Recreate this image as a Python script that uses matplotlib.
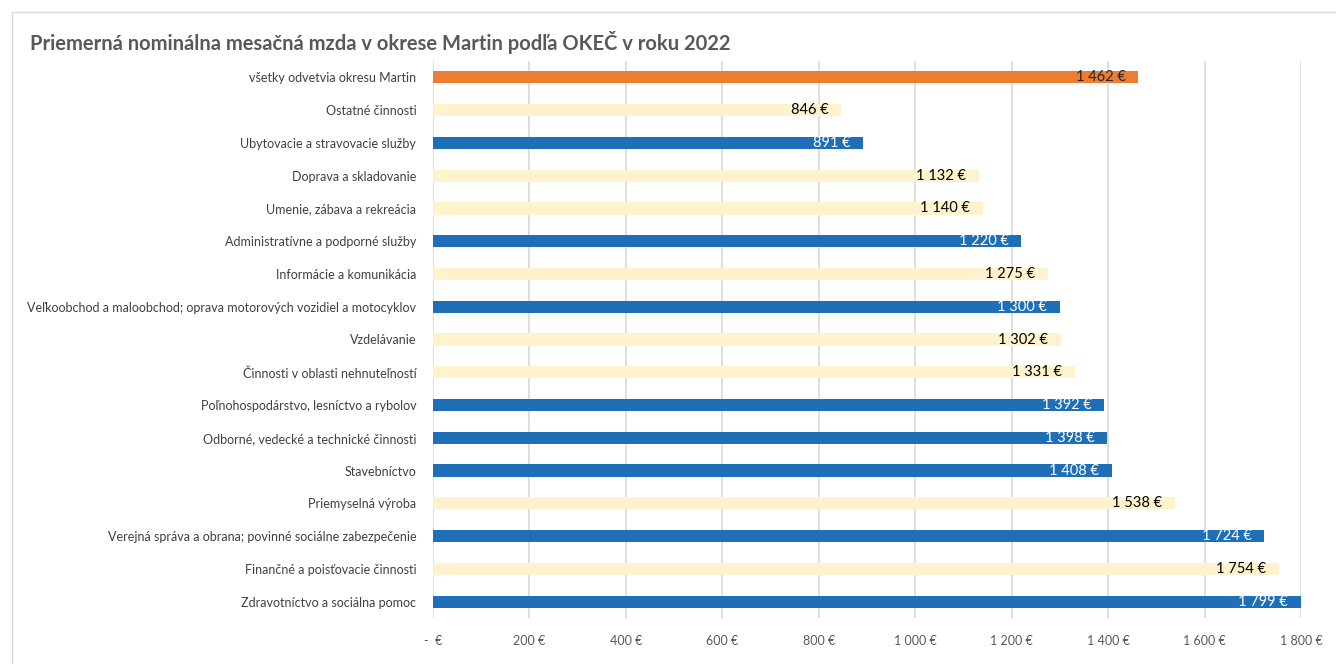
import matplotlib.pyplot as plt
from matplotlib.patches import Rectangle

plt.rcParams['font.family'] = ['Lato', 'DejaVu Sans']

categories = [
    'všetky odvetvia okresu Martin',
    'Ostatné činnosti',
    'Ubytovacie a stravovacie služby',
    'Doprava a skladovanie',
    'Umenie, zábava a rekreácia',
    'Administratívne a podporné služby',
    'Informácie a komunikácia',
    'Veľkoobchod a maloobchod; oprava motorových vozidiel a motocyklov',
    'Vzdelávanie',
    'Činnosti v oblasti nehnuteľností',
    'Poľnohospodárstvo, lesníctvo a rybolov',
    'Odborné, vedecké a technické činnosti',
    'Stavebníctvo',
    'Priemyselná výroba',
    'Verejná správa a obrana; povinné sociálne zabezpečenie',
    'Finančné a poisťovacie činnosti',
    'Zdravotníctvo a sociálna pomoc',
]
wages = [1462, 846, 891, 1132, 1140, 1220, 1275, 1300, 1302, 1331,
         1392, 1398, 1408, 1538, 1724, 1754, 1799]
# o = okres total, b = blue, y = light yellow
groups = ['o', 'y', 'b', 'y', 'y', 'b', 'y', 'b', 'y', 'y',
          'b', 'b', 'b', 'y', 'b', 'y', 'b']
ticks = [0, 200, 400, 600, 800, 1000, 1200, 1400, 1600, 1800]

bar_col = {'o': '#ED7D31', 'b': '#1F6FB8', 'y': '#FFF2CC'}
txt_col = {'o': '#262626', 'b': 'white', 'y': '#000000'}


def eur(v):
    if v == 0:
        return '-  €'
    return f'{v:,}'.replace(',', ' ') + ' €'


fig = plt.figure(figsize=(13.36, 6.64), dpi=100)
fig.patches.append(Rectangle((12 / 1336, -0.01), 1.0, 1 - 12 / 664 + 0.01,
                             transform=fig.transFigure, fill=False,
                             edgecolor='#D9D9D9', linewidth=1))
ax = fig.add_axes([433 / 1336, 1 - 618 / 664, 868 / 1336, 557 / 664])

ypos = list(range(len(categories)))
ax.barh(ypos, wages, height=0.37,
        color=[bar_col[g] for g in groups], zorder=2)
for y, v, g in zip(ypos, wages, groups):
    ax.annotate(eur(v), (v, y), xytext=(-9, 0), textcoords='offset points',
                ha='right', va='center', fontsize=10.5,
                color=txt_col[g], zorder=3)

ax.set_xlim(0, 1800)
ax.set_ylim(len(categories) - 0.5, -0.5)
ax.set_yticks(ypos)
ax.set_yticklabels(categories, fontsize=9, color='#404040')
ax.set_xticks(ticks)
ax.set_xticklabels([eur(t) for t in ticks], fontsize=9, color='#595959')
ax.tick_params(length=0)
ax.tick_params(axis='x', pad=12)
ax.tick_params(axis='y', pad=12)
ax.grid(axis='x', color='#D9D9D9', linewidth=1.2, zorder=0)
for s in ax.spines.values():
    s.set_visible(False)

fig.text(30 / 1336, 1 - 43 / 664,
         'Priemerná nominálna mesačná mzda v okrese Martin podľa OKEČ v roku 2022',
         fontsize=14.5, fontweight='bold', color='#595959', va='center')

fig.savefig('out.png', dpi=100)
